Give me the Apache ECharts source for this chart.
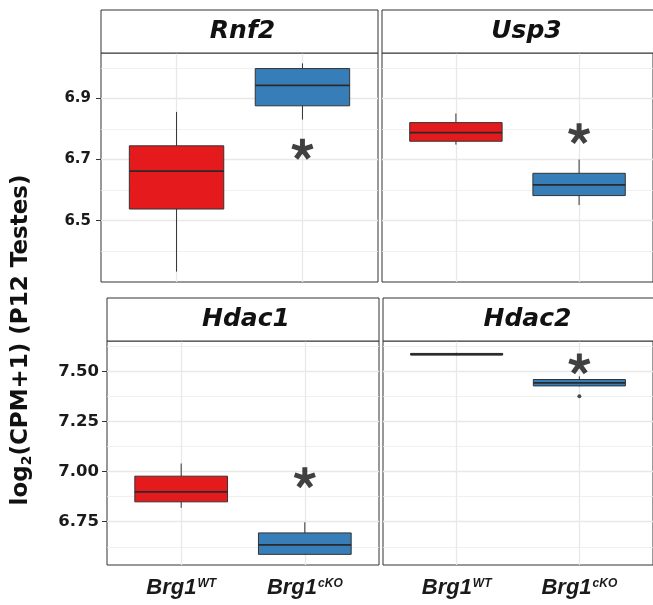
<!DOCTYPE html>
<html>
<head>
<meta charset="utf-8">
<title>Brg1 cKO expression</title>
<script src="https://cdn.jsdelivr.net/npm/echarts@6/dist/echarts.min.js"></script>
<style>
  html, body { margin: 0; padding: 0; background: #fff; }
  #chart { width: 653px; height: 605px; }
</style>
</head>
<body>
<div id="chart"></div>
<script>
// one panel per gene, two genotypes per panel
const genes = ['Rnf2', 'Usp3', 'Hdac1', 'Hdac2'];
const genotypes = ['WT', 'cKO'];

// box stats: [lower whisker, Q1, median, Q3, upper whisker], WT then cKO
const rnf2Stats = [[6.333, 6.538, 6.662, 6.745, 6.856], [6.831, 6.876, 6.943, 6.998, 7.015]];
const usp3Stats = [[6.749, 6.760, 6.788, 6.821, 6.851], [6.551, 6.582, 6.617, 6.655, 6.700]];
const hdac1Stats = [[6.819, 6.849, 6.899, 6.977, 7.040], [6.585, 6.587, 6.634, 6.694, 6.747]];
const hdac2Stats = [[7.580, 7.581, 7.585, 7.589, 7.592], [7.425, 7.427, 7.442, 7.459, 7.475]];
const hdac2Outliers = [7.376];            // cKO
const starValues = [6.734, 6.785, 6.969, 7.537]; // asterisk above cKO, per gene

// y scales: top row shares one, bottom row another
const topRange = [6.299, 7.049];
const topMajorTicks = [6.5, 6.7, 6.9];
const topMinorTicks = [6.4, 6.6, 6.8, 7.0];
const bottomRange = [6.534, 7.651];
const bottomMajorTicks = [6.75, 7.0, 7.25, 7.5];
const bottomMinorTicks = [6.625, 6.875, 7.125, 7.375, 7.625];

const boxColors = ['#e41a1c', '#377eb8'];
const allStats = [rnf2Stats, usp3Stats, hdac1Stats, hdac2Stats];

// panel placement (pixels)
const panels = [
  { left: 101, top: 53, width: 277, height: 229, row: 0, showY: true },
  { left: 382, top: 53, width: 275, height: 229, row: 0, showY: false },
  { left: 107, top: 341, width: 272, height: 224, row: 1, showY: true },
  { left: 383, top: 341, width: 275, height: 224, row: 1, showY: false }
];
const stripHeight = 43;
const labelColor = '#1a1a1a';

// 5-armed asterisk path
const starPath = (() => {
  const w = 0.23;
  let d = '';
  for (let k = 0; k < 5; k++) {
    const a = (-90 + 72 * k) * Math.PI / 180;
    const dx = Math.cos(a), dy = Math.sin(a);
    const px = -dy * w, py = dx * w;
    const pts = [[px, py], [dx + px, dy + py], [dx - px, dy - py], [-px, -py]];
    d += 'M' + pts.map(p => (p[0] * 100).toFixed(1) + ',' + (p[1] * 100).toFixed(1)).join('L') + 'Z';
  }
  return 'path://' + d;
})();

// box without whisker caps (ggplot style)
const renderBox = (params, api) => {
  const x = api.value(0);
  const low = api.coord([x, api.value(1)]);
  const q1 = api.coord([x, api.value(2)]);
  const med = api.coord([x, api.value(3)]);
  const q3 = api.coord([x, api.value(4)]);
  const high = api.coord([x, api.value(5)]);
  const half = api.size([0.75, 0])[0] / 2;
  const stroke = '#333';
  return {
    type: 'group',
    children: [
      { type: 'line', shape: { x1: high[0], y1: high[1], x2: q3[0], y2: q3[1] }, style: { stroke: stroke, lineWidth: 1 } },
      { type: 'line', shape: { x1: q1[0], y1: q1[1], x2: low[0], y2: low[1] }, style: { stroke: stroke, lineWidth: 1 } },
      { type: 'rect', shape: { x: q3[0] - half, y: q3[1], width: half * 2, height: q1[1] - q3[1] },
        style: { fill: boxColors[Math.round(x) - 1], stroke: stroke, lineWidth: 1 } },
      { type: 'line', shape: { x1: med[0] - half, y1: med[1], x2: med[0] + half, y2: med[1] }, style: { stroke: '#2a2a2a', lineWidth: 1.8 } }
    ]
  };
};

const grids = [];
const xAxes = [];
const yAxes = [];
const series = [];

panels.forEach((p, i) => {
  const range = p.row === 0 ? topRange : bottomRange;
  const major = p.row === 0 ? topMajorTicks : bottomMajorTicks;
  const minor = p.row === 0 ? topMinorTicks : bottomMinorTicks;
  const digits = p.row === 0 ? 1 : 2;

  grids.push({
    left: p.left, top: p.top, width: p.width, height: p.height,
    show: true, backgroundColor: '#fff', borderColor: '#333', borderWidth: 1, containLabel: false
  });

  xAxes.push({
    type: 'value', gridIndex: i, min: 0.4, max: 2.6,
    axisLine: { show: false },
    axisTick: { show: false, customValues: [1, 2] },
    splitLine: { show: true, lineStyle: { color: '#e8e8e8', width: 1.3 } },
    axisLabel: {
      show: p.row === 1, customValues: [1, 2], margin: 12,
      formatter: v => '{b|Brg1}{s|' + genotypes[Math.round(v) - 1] + '}',
      rich: {
        b: { fontSize: 22, fontWeight: 'bold', fontStyle: 'italic', fontFamily: 'Liberation Sans', color: labelColor },
        s: { fontSize: 12, fontWeight: 'bold', fontStyle: 'italic', fontFamily: 'Liberation Sans', color: labelColor, padding: [0, 0, 9, 1] }
      }
    }
  });

  // major grid + labels
  yAxes.push({
    type: 'value', gridIndex: i, min: range[0], max: range[1],
    axisLine: { show: false },
    axisTick: { show: p.showY, length: 5, customValues: major, lineStyle: { color: '#333' } },
    splitLine: { show: true, lineStyle: { color: '#e8e8e8', width: 1.3 } },
    axisLabel: {
      show: p.showY, customValues: major, margin: p.row === 0 ? 10 : 8,
      formatter: v => v.toFixed(digits),
      fontSize: p.row === 0 ? 15 : 16.5, fontWeight: 'bold', fontFamily: 'DejaVu Sans', color: labelColor
    }
  });
  // minor grid
  yAxes.push({
    type: 'value', gridIndex: i, min: range[0], max: range[1],
    axisLine: { show: false },
    axisTick: { show: false, customValues: minor },
    axisLabel: { show: false },
    splitLine: { show: true, lineStyle: { color: '#ececec', width: 0.8 } }
  });

  series.push({
    type: 'custom', xAxisIndex: i, yAxisIndex: i * 2,
    renderItem: renderBox,
    encode: { x: 0, y: [1, 2, 3, 4, 5] },
    data: allStats[i].map((s, g) => [g + 1].concat(s)),
    z: 3
  });

  series.push({
    type: 'scatter', xAxisIndex: i, yAxisIndex: i * 2,
    symbol: starPath, symbolSize: [22, 22], symbolKeepAspect: true,
    itemStyle: { color: '#111' },
    data: [[2, starValues[i]]],
    z: 4
  });
});

series.push({
  type: 'scatter', xAxisIndex: 3, yAxisIndex: 6,
  symbolSize: 4, itemStyle: { color: '#222' },
  data: hdac2Outliers.map(v => [2, v]),
  z: 4
});

const graphic = [];
panels.forEach((p, i) => {
  graphic.push({
    type: 'rect', z: 10,
    shape: { x: p.left, y: p.top - stripHeight, width: p.width, height: stripHeight },
    style: { fill: '#fff', stroke: '#333', lineWidth: 1 }
  });
  graphic.push({
    type: 'text', z: 11,
    x: p.left + p.width / 2 + (p.showY ? 3 : 7), y: p.top - stripHeight / 2,
    style: { text: genes[i], font: 'italic bold 25px "DejaVu Sans"', fill: '#111', align: 'center', verticalAlign: 'middle' }
  });
});
graphic.push({
  type: 'text', z: 11, x: 21, y: 340, rotation: Math.PI / 2,
  style: {
    text: '{a|log}{b|2}{a|(CPM+1) (P12 Testes)}',
    align: 'center', verticalAlign: 'middle',
    rich: {
      a: { fontSize: 23, fontWeight: 'bold', fontFamily: 'DejaVu Sans', fill: '#111' },
      b: { fontSize: 14, fontWeight: 'bold', fontFamily: 'DejaVu Sans', fill: '#111', padding: [12, 0, 0, 0] }
    }
  }
});

const chart = echarts.init(document.getElementById('chart'));
chart.setOption({
  animation: false,
  backgroundColor: '#fff',
  grid: grids,
  xAxis: xAxes,
  yAxis: yAxes,
  series: series,
  graphic: graphic
});
</script>
</body>
</html>
